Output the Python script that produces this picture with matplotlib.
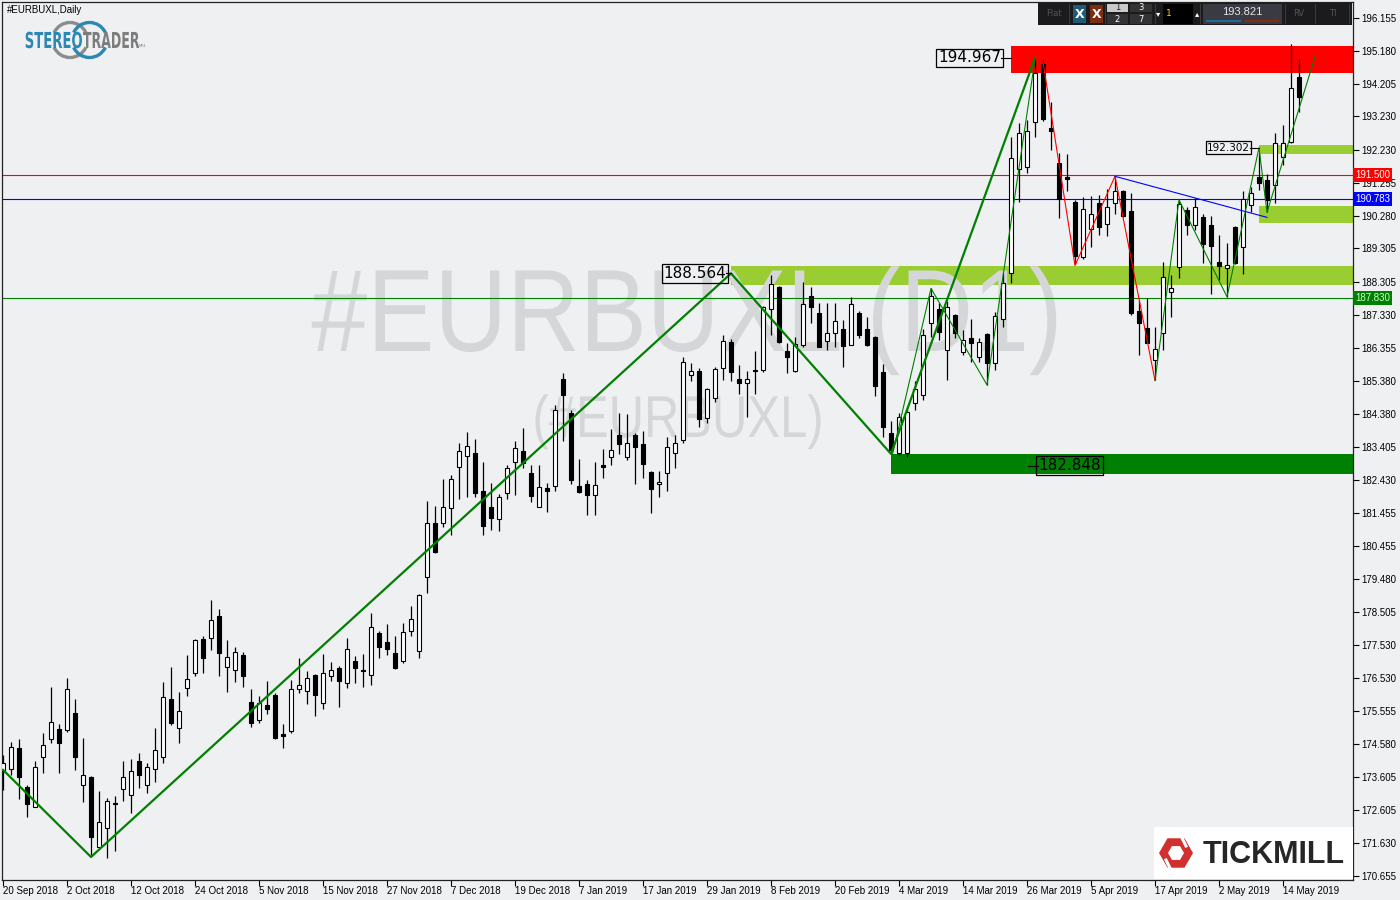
import numpy as np
import matplotlib.pyplot as plt
import matplotlib.transforms as mtransforms
from matplotlib import patches
from matplotlib.textpath import TextPath
from matplotlib.font_manager import FontProperties

# daily candles of #EURBUXL, one per trading day (bar index 0 = 20 Sep 2018)
opens = [
    173.79, 173.83, 174.45, 173.30, 172.72, 174.20, 174.72, 175.02, 174.99, 175.49,
    173.35, 173.60, 171.53, 172.07, 172.82, 173.23, 173.05, 174.07, 173.35, 173.83,
    174.20, 175.91, 175.04, 176.23, 176.68, 177.69, 177.72, 178.38, 176.86, 176.77,
    177.23, 175.82, 175.29, 175.74, 176.04, 174.88, 174.95, 176.22, 176.16, 176.63,
    175.81, 176.59, 176.83, 176.38, 177.05, 176.76, 176.62, 177.88, 177.61, 177.27,
    177.04, 177.95, 177.33, 179.53, 181.14, 181.14, 181.58, 182.80, 183.14, 183.23,
    182.10, 181.61, 181.26, 182.03, 182.97, 183.29, 182.63, 181.61, 182.18, 182.26,
    185.43, 184.42, 182.25, 182.31, 181.99, 182.86, 183.10, 183.76, 183.10, 183.76,
    183.49, 182.66, 182.30, 182.62, 183.22, 183.61, 185.53, 185.65, 184.28, 184.85,
    185.74, 186.52, 185.42, 185.30, 185.70, 185.69, 187.50, 188.17, 186.26, 185.67,
    186.44, 187.89, 187.40, 186.57, 186.78, 186.90, 186.44, 187.38, 186.90, 186.67,
    185.63, 183.83, 183.22, 183.22, 184.70, 184.95, 187.08, 187.50, 186.29, 187.33,
    186.24, 186.64, 186.09, 186.76, 185.89, 187.20, 188.57, 191.66, 191.74, 193.06,
    194.79, 192.88, 191.84, 191.42, 190.70, 189.04, 189.88, 190.65, 190.02, 190.65,
    191.01, 190.42, 187.45, 186.93, 185.99, 186.78, 188.02, 188.75, 190.45, 190.00,
    190.23, 190.00, 188.90, 188.72, 189.94, 189.34, 190.60, 191.44, 191.34, 191.19,
    192.03, 192.48, 194.39]
highs = [
    174.25, 174.65, 174.72, 173.36, 174.07, 174.90, 176.26, 175.17, 176.53, 175.91,
    174.75, 173.62, 173.18, 172.98, 173.03, 174.07, 174.13, 174.30, 174.02, 175.05,
    176.41, 176.86, 176.12, 177.22, 177.69, 177.79, 178.86, 178.59, 177.67, 177.47,
    177.32, 176.21, 176.00, 176.45, 176.08, 175.17, 176.48, 177.13, 176.76, 176.66,
    177.25, 177.01, 176.90, 177.72, 177.20, 177.25, 178.46, 177.95, 178.14, 177.79,
    178.18, 178.68, 179.04, 181.80, 181.65, 182.45, 182.57, 183.53, 183.84, 183.64,
    182.97, 182.34, 182.01, 182.87, 183.58, 183.96, 182.86, 182.86, 182.34, 184.65,
    185.60, 184.50, 183.04, 182.43, 182.97, 183.35, 183.93, 184.42, 184.39, 183.83,
    183.89, 182.70, 182.70, 183.69, 183.76, 186.09, 185.91, 185.74, 185.15, 185.79,
    186.73, 186.61, 185.84, 185.67, 186.26, 187.60, 188.52, 188.20, 186.51, 186.67,
    188.30, 188.17, 187.68, 187.68, 187.68, 187.18, 187.87, 187.45, 187.28, 186.70,
    185.87, 184.19, 184.41, 184.60, 185.38, 186.90, 188.12, 187.68, 187.73, 187.35,
    186.88, 187.20, 186.64, 186.80, 187.43, 188.57, 192.63, 193.03, 193.12, 194.97,
    194.93, 193.67, 192.13, 192.11, 190.75, 190.83, 190.87, 190.90, 191.07, 191.42,
    191.03, 190.96, 187.77, 187.82, 186.98, 188.90, 188.52, 190.75, 190.53, 190.80,
    190.33, 190.27, 189.71, 189.46, 189.97, 191.02, 191.12, 192.15, 191.52, 192.73,
    192.97, 195.38, 194.93]
lows = [
    173.21, 173.65, 172.95, 172.42, 172.70, 173.71, 174.60, 173.71, 174.94, 173.80,
    172.84, 171.28, 171.48, 171.18, 171.41, 172.89, 172.54, 173.26, 173.11, 173.46,
    174.01, 175.13, 174.60, 176.00, 176.61, 176.70, 177.37, 176.61, 176.13, 176.43,
    176.28, 175.07, 175.21, 175.46, 174.72, 174.47, 174.90, 176.08, 175.77, 175.42,
    175.63, 176.46, 175.67, 176.23, 176.40, 176.27, 176.32, 177.12, 177.21, 176.80,
    176.98, 177.80, 177.14, 179.06, 180.25, 181.02, 180.79, 181.86, 181.91, 181.91,
    180.79, 180.94, 180.92, 181.86, 181.98, 182.77, 181.76, 181.61, 181.47, 182.11,
    183.59, 182.31, 182.03, 181.38, 181.38, 182.47, 182.87, 183.20, 183.02, 182.31,
    182.47, 181.45, 181.93, 182.11, 182.79, 183.53, 185.38, 184.01, 184.13, 184.75,
    185.40, 185.38, 184.98, 184.29, 184.98, 185.64, 186.73, 186.49, 185.61, 185.63,
    186.39, 187.08, 186.39, 186.29, 186.39, 185.79, 186.44, 186.64, 186.40, 184.93,
    183.71, 183.27, 183.17, 183.10, 184.51, 184.80, 186.68, 186.59, 185.40, 186.64,
    186.14, 185.94, 185.94, 185.25, 185.69, 186.98, 188.27, 190.70, 191.54, 192.63,
    193.10, 192.23, 190.20, 191.02, 188.85, 188.98, 189.34, 189.71, 189.68, 190.33,
    190.25, 187.33, 186.14, 186.49, 185.40, 186.29, 187.28, 188.42, 189.71, 189.85,
    188.87, 187.95, 188.37, 187.87, 188.85, 188.55, 190.40, 191.04, 190.40, 190.65,
    191.79, 192.45, 193.37]
closes = [
    174.02, 174.48, 173.60, 172.78, 173.90, 174.54, 175.22, 174.60, 176.20, 174.20,
    173.65, 171.82, 172.25, 172.88, 172.78, 173.59, 173.77, 173.65, 173.90, 174.39,
    175.97, 175.21, 175.55, 176.51, 177.67, 177.12, 178.26, 177.29, 177.16, 177.31,
    176.61, 175.19, 175.79, 175.63, 174.77, 174.83, 176.21, 176.32, 176.53, 176.02,
    176.68, 176.77, 176.46, 177.39, 176.85, 176.74, 178.05, 177.47, 177.39, 176.85,
    177.90, 178.29, 179.01, 181.14, 180.28, 181.61, 182.45, 183.30, 183.43, 182.05,
    181.07, 181.30, 181.91, 182.77, 183.37, 182.94, 181.96, 182.21, 182.11, 184.50,
    184.95, 182.42, 182.07, 181.99, 182.28, 182.82, 183.32, 183.49, 183.52, 183.40,
    182.90, 182.15, 182.36, 183.40, 183.52, 185.92, 185.65, 184.23, 185.12, 185.71,
    186.56, 185.64, 185.30, 185.42, 185.66, 187.58, 188.24, 186.53, 186.09, 186.46,
    187.65, 187.56, 186.39, 186.80, 187.15, 186.41, 187.65, 186.73, 186.44, 185.22,
    184.01, 183.32, 184.31, 184.46, 185.12, 186.73, 187.89, 186.83, 187.58, 186.79,
    186.59, 186.51, 186.52, 185.89, 187.30, 188.29, 191.99, 192.73, 192.80, 194.51,
    193.15, 192.80, 190.78, 191.38, 189.08, 190.47, 190.33, 189.93, 190.53, 191.02,
    190.27, 187.40, 187.10, 186.49, 186.31, 188.45, 188.12, 190.63, 190.00, 190.53,
    189.44, 189.39, 188.79, 188.81, 188.88, 190.77, 190.96, 191.24, 190.75, 192.45,
    192.45, 194.07, 193.82]

date_labels = ["20 Sep 2018", "2 Oct 2018", "12 Oct 2018", "24 Oct 2018", "5 Nov 2018",
               "15 Nov 2018", "27 Nov 2018", "7 Dec 2018", "19 Dec 2018", "7 Jan 2019",
               "17 Jan 2019", "29 Jan 2019", "8 Feb 2019", "20 Feb 2019", "4 Mar 2019",
               "14 Mar 2019", "26 Mar 2019", "5 Apr 2019", "17 Apr 2019", "2 May 2019",
               "14 May 2019"]
price_ticks = [196.155, 195.180, 194.205, 193.230, 192.230, 191.255, 190.280, 189.305,
               188.305, 187.330, 186.355, 185.380, 184.380, 183.405, 182.430, 181.455,
               180.455, 179.480, 178.505, 177.530, 176.530, 175.555, 174.580, 173.605,
               172.605, 171.630, 170.655]

# drawn objects: zigzags (bar index, price)
big_zz_x = [0, 11, 91, 111, 129]
big_zz_y = [173.81, 171.22, 188.564, 183.2, 194.967]
thin_zz_x = [111.2, 116, 123, 129]
thin_zz_y = [183.2, 188.12, 185.25, 194.93]
red_zz_x = [130, 134, 139, 144]
red_zz_y = [194.85, 188.80, 191.45, 185.38]
green_zz_x = [144, 147, 153, 157, 158, 164]
green_zz_y = [185.38, 190.75, 187.87, 192.30, 190.38, 195.00]
blue_tl_x = [139, 158]
blue_tl_y = [191.45, 190.23]

# zones: (start bar, low, high, colour)
zones = [(126, 194.53, 195.32, '#ff0000'),
         (91, 188.22, 188.79, '#9acd32'),
         (157, 192.11, 192.38, '#9acd32'),
         (157, 190.07, 190.57, '#9acd32'),
         (111, 182.60, 183.20, '#008000')]
hlines = [(191.500, '#ff0000', 'white'), (190.783, '#0000ff', 'white'), (187.830, '#008000', '#c8ffc8')]
# price tags: (value, bar where the tag line starts, bar where it ends, side, font size)
tags = [(188.564, 90.4, 91.0, 'right', 11), (194.967, 124.75, 126.0, 'right', 11),
        (182.848, 129.4, 128.1, 'left', 11), (192.302, 155.9, 157.0, 'right', 7.5)]

BG = '#eff0f2'
W, H = 1400, 900
fig = plt.figure(figsize=(14, 9), dpi=100, facecolor=BG)
ax = fig.add_axes([2 / W, 20 / H, 1351 / W, 878 / H], facecolor=BG)
tp = mtransforms.Affine2D().scale(0.01, -0.01).translate(0, 9) + fig.dpi_scale_trans


def p2y(y):
    return 196.155 - (y - 18) / 33.647


def squeezed(parent, s, x, base, size, sx, color, ha='left', weight='normal',
             family='DejaVu Sans', z=11):
    # text as a path, narrowed horizontally, placed in pixel coordinates
    path = TextPath((0, 0), s, size=size, prop=FontProperties(family=family, weight=weight))
    ext = path.get_extents()
    w = ext.width * sx
    x0 = {'left': x, 'right': x - w, 'center': x - w / 2}[ha]
    tr = mtransforms.Affine2D().translate(-ext.x0, 0).scale(sx, -1).translate(x0, base) + tp
    parent.add_artist(patches.PathPatch(path, transform=tr, fc=color, ec='none', zorder=z))


ax.set_xlim(-0.125, 168.75)
ax.set_ylim(p2y(880), p2y(2))

o = np.array(opens)
c = np.array(closes)
h = np.array(highs)
l = np.array(lows)
idx = np.arange(len(o))
up = c >= o
lo = np.minimum(o, c)
hgt = np.maximum(np.abs(c - o), 0.04)

# zones and watermark behind everything
for start, z0, z1, col in zones:
    ax.add_patch(patches.Rectangle((start, z0), 200, z1 - z0, fc=col, ec='none', zorder=1))
squeezed(ax, '#EURBUXL (D1)', 684, 351, 117, 0.86, '#d4d6d8', ha='center',
         family='Liberation Sans', z=1.5)
squeezed(ax, '(#EURBUXL)', 678, 437, 59, 0.83, '#d4d6d8', ha='center',
         family='Liberation Sans', z=1.5)

for val, col, _ in hlines:
    ax.axhline(val, color=col, lw=0.8, zorder=2)

ax.vlines(idx, l, h, color='black', lw=0.9, zorder=3)
ax.bar(idx[up], hgt[up], bottom=lo[up], width=0.62, color='white', edgecolor='black', lw=0.8, zorder=4)
ax.bar(idx[~up], hgt[~up], bottom=lo[~up], width=0.62, color='black', edgecolor='black', lw=0.8, zorder=4)

ax.plot(big_zz_x, big_zz_y, color='#008000', lw=1.6, zorder=5)
ax.plot(thin_zz_x, thin_zz_y, color='#008000', lw=0.8, zorder=5)
ax.plot(red_zz_x, red_zz_y, color='#ff0000', lw=0.8, zorder=5)
ax.plot(green_zz_x, green_zz_y, color='#008000', lw=0.8, zorder=5)
ax.plot(blue_tl_x, blue_tl_y, color='#0000ff', lw=0.8, zorder=5)

for val, x0, x1, side, fs in tags:
    ax.plot([x0, x1], [val, val], color='black', lw=0.8, zorder=6)
    ax.text(x0, val, f'{val:.3f}', ha=side, va='center', fontsize=fs, color='black', zorder=6,
            bbox=dict(boxstyle='square,pad=0.12', fc='none', ec='black', lw=0.9))

# axes
ax.yaxis.tick_right()
ax.set_yticks(price_ticks)
ax.set_yticklabels([f'{v:.3f}' for v in price_ticks])
ax.set_xticks(np.arange(0, 8 * len(date_labels), 8))
ax.set_xticklabels(date_labels)
ax.tick_params(axis='both', labelsize=7, length=4, width=0.8, color='black', pad=2)
ax.tick_params(axis='x', pad=0.5)
for lbl in ax.get_xticklabels():
    lbl.set_ha('left')
    lbl.set_family('Liberation Sans')
for lbl in ax.get_yticklabels():
    lbl.set_family('Liberation Sans')
for s in ax.spines.values():
    s.set_color('#222222')
    s.set_linewidth(0.9)

for val, col, tcol in hlines:
    ax.text(1.0015, val, f'{val:.3f}', transform=ax.get_yaxis_transform(), ha='left', va='center',
            fontsize=7, color=tcol, family='Liberation Sans', clip_on=False, zorder=7,
            bbox=dict(boxstyle='square,pad=0.2', fc=col, ec='none'))


def box(x0, y0, x1, y1, fc, z=10):
    fig.add_artist(patches.Rectangle((x0, y0), x1 - x0, y1 - y0, transform=tp, fc=fc, ec='none', zorder=z))


def label(x, y, s, **kw):
    kw.setdefault('ha', 'center')
    kw.setdefault('va', 'center')
    kw.setdefault('zorder', 11)
    fig.text(x / W, 1 - y / H, s, **kw)


# top-left caption and logo
label(7, 10, '#EURBUXL,Daily', ha='left', fontsize=7, family='Liberation Sans')
for cx, col in [(70, '#8c8c8c'), (89.5, '#2b87b3')]:
    for t1, t2 in [(25, 155), (205, 335)]:
        fig.add_artist(patches.Arc((cx, 40), 35, 35, theta1=t1, theta2=t2, transform=tp,
                                   color=col, lw=2.4, zorder=10))
squeezed(fig, 'STEREO', 82, 48, 22, 0.6, '#2b87b3', ha='right', weight='bold')
squeezed(fig, 'TRADER', 83, 48, 22, 0.57, '#7d7d7d', ha='left', weight='bold')
label(142, 46, 'MT4', fontsize=2.5, color='#7d7d7d')

# trading toolbar
box(1038, 3, 1352, 25, '#1b1b1d')
label(1054, 14, 'Flat', fontsize=6, color='#555555')
box(1073, 5, 1086, 23, '#1f5a78')
label(1079.5, 14, 'X', fontsize=9, fontweight='bold', color='white')
box(1090, 5, 1103, 23, '#7a2e12')
label(1096.5, 14, 'X', fontsize=9, fontweight='bold', color='white')
box(1107, 4, 1128, 12, '#c9c9c9')
label(1117.5, 8, '1', fontsize=6, color='#222222')
box(1107, 14, 1128, 24, '#333333')
label(1117.5, 19, '2', fontsize=6, color='white')
box(1130, 4, 1152, 12, '#333333')
label(1141, 8, '3', fontsize=6, color='white')
box(1130, 14, 1152, 24, '#333333')
label(1141, 19, '7', fontsize=6, color='white')
label(1158, 14, '\u25be', fontsize=6, color='white')
box(1163, 4, 1193, 24, '#000000')
label(1166, 14, '1', ha='left', fontsize=6.5, color='#ffd400')
label(1197, 14, '\u25b4', fontsize=6, color='white')
box(1203, 4, 1282, 24, '#3a3a42')
label(1242, 12, '193.821', fontsize=8, color='#e6e6e6', family='Liberation Sans')
box(1206, 20, 1241, 22, '#1d6d9c')
box(1245, 20, 1279, 22, '#8a2c0c')
label(1299, 14, 'RV', fontsize=6, color='#555555')
label(1333, 14, 'TI', fontsize=6, color='#555555')
for sx in [1069, 1105, 1155, 1200, 1285, 1315, 1349]:
    box(sx, 4, sx + 1, 24, '#3a3a3a')

# broker logo
box(1154, 827, 1353, 879, 'white')
fig.add_artist(patches.RegularPolygon((1176, 853), 6, radius=17, orientation=np.pi / 6,
                                      transform=tp, fc='#d22f2f', ec='none', zorder=11))
fig.add_artist(patches.RegularPolygon((1176, 853), 6, radius=8, orientation=np.pi / 6,
                                      transform=tp, fc='white', ec='none', zorder=12))
for (x0, y0, x1, y1) in [(1181, 836, 1186, 846), (1166, 860, 1171, 870)]:
    fig.add_artist(plt.Line2D([x0, x1], [y0, y1], transform=tp, color='white', lw=2.2, zorder=13))
label(1203, 855, 'TICKMILL', ha='left', fontsize=22, fontweight='bold', color='#262626',
      family='Liberation Sans')

fig.savefig('out.png', dpi=100, facecolor=BG)
